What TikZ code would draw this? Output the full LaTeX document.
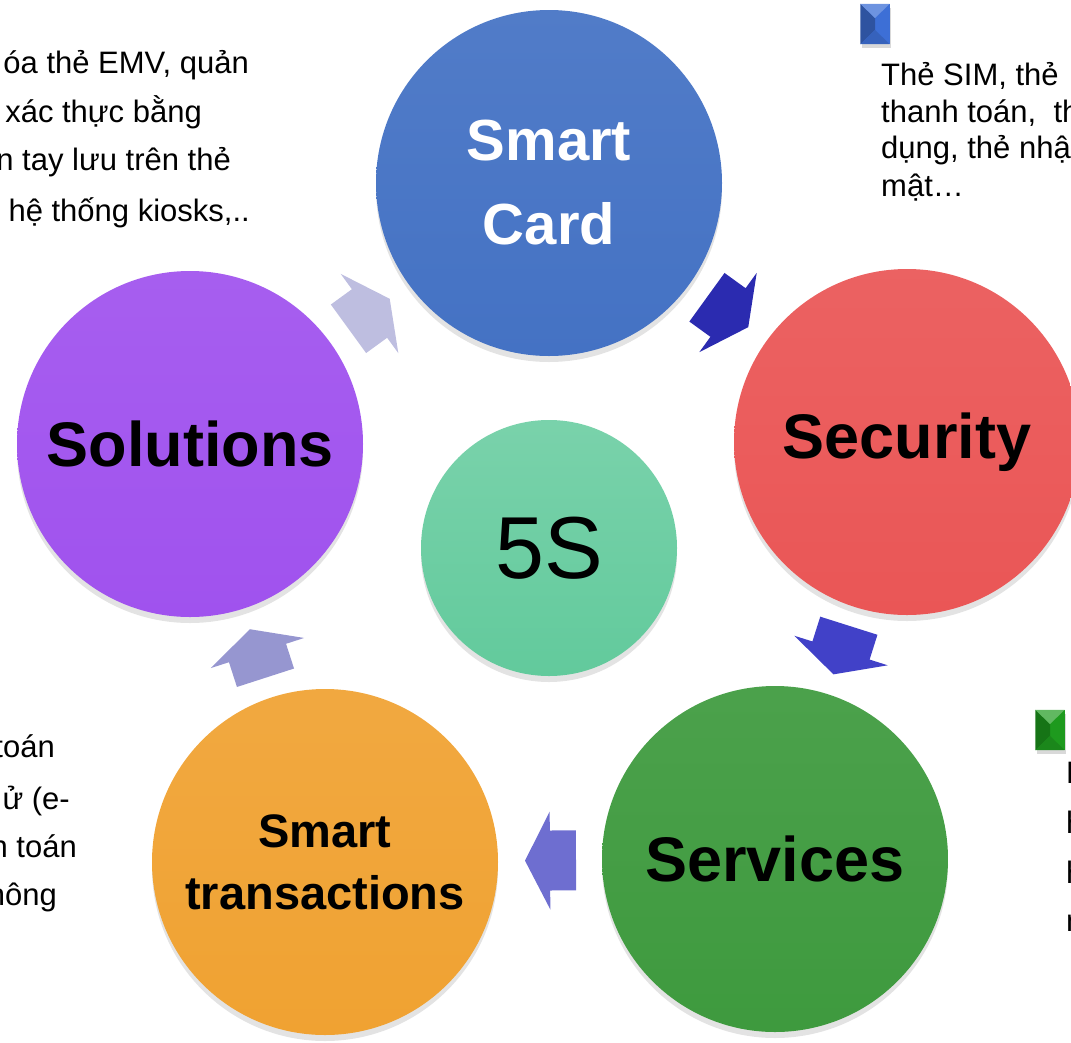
\documentclass[tikz,border=0pt]{standalone}
\usepackage{fontspec}
\setmainfont{Liberation Sans}
\usetikzlibrary{positioning,shadows,calc}

\definecolor{cardblue}{HTML}{4472C4}
\definecolor{secred}{HTML}{EA5656}
\definecolor{servgreen}{HTML}{3E9A3E}
\definecolor{transorange}{HTML}{F0A232}
\definecolor{solpurple}{HTML}{A052EE}
\definecolor{hubgreen}{HTML}{62CA9C}
\definecolor{arrowA}{HTML}{BEBEE0}
\definecolor{arrowB}{HTML}{2B2BB0}
\definecolor{arrowC}{HTML}{4141C8}
\definecolor{arrowD}{HTML}{6E6ED0}
\definecolor{arrowE}{HTML}{9696D0}
\definecolor{bulletblue}{HTML}{3D6FD6}
\definecolor{bulletgreen}{HTML}{1E9A1E}

\begin{document}
\begin{tikzpicture}[x=1pt, y=-1pt, allow upside down,
                ring/.style={circle, minimum size=346pt, inner sep=0pt, align=center,
                    font=\bfseries\fontsize{63}{70}\selectfont,
                    drop shadow={shadow xshift=0pt, shadow yshift=-6pt, opacity=0.22}},
                hub/.style={circle, minimum size=256pt, inner sep=0pt,
                    font=\fontsize{88}{100}\selectfont,
                    drop shadow={shadow xshift=0pt, shadow yshift=-6pt, opacity=0.22}},
                sidetext/.style={inner sep=0pt, font=\fontsize{31}{37}\selectfont},
                bulletbox/.style={rectangle, minimum width=29pt, minimum height=40pt, inner sep=0pt,
                    drop shadow={shadow xshift=1pt, shadow yshift=-4pt, opacity=0.3}},
                cyclearrow/.pic={\fill[#1] (-26,-30) -- (0,-30) -- (0,-49) -- (25,0)
                    -- (0,49) -- (0,30) -- (-26,30) -- cycle;}
            ]

            \useasboundingbox (0,0) rectangle (1071,1042);
            \clip (0,0) rectangle (1071,1042);

            %circles
            \node[ring, top color=cardblue!93!white, bottom color=cardblue, text=white,
                  font=\bfseries\fontsize{58}{84}\selectfont]   (card)  at (549,183) {Smart\\Card};
            \node[ring, top color=secred!93!white, bottom color=secred]         (sec)   at (907,442) {Security};
            \node[ring, top color=servgreen!93!white, bottom color=servgreen]   (serv)  at (775,859) {Services};
            \node[ring, top color=transorange!93!white, bottom color=transorange,
                  font=\bfseries\fontsize{47}{62}\selectfont]   (trans) at (325,862) {Smart\\transactions};
            \node[ring, top color=solpurple!93!white, bottom color=solpurple]   (sol)   at (190,444) {Solutions};
            \node[hub, top color=hubgreen!85!white, bottom color=hubgreen]      (hub)   at (549,548) {5S};

            %cycle arrows
            \path (sol.center) -- (card.center)     pic[pos=.5, sloped] {cyclearrow=arrowA};
            \path (card.center) -- (sec.center)     pic[pos=.5, sloped] {cyclearrow=arrowB};
            \path (sec.center) -- (serv.center)     pic[pos=.5, sloped] {cyclearrow=arrowC};
            \path (serv.center) -- (trans.center)   pic[pos=.5, sloped] {cyclearrow=arrowD};
            \path (trans.center) -- (sol.center)    pic[pos=.5, sloped] {cyclearrow=arrowE};

            %bullets
            \node[bulletbox, fill=bulletblue]   (bblue)  at (875,24)   {};
            \fill[bulletblue!75!black] (bblue.north west) -- ($(bblue.center)+(0,-6)$) -- ($(bblue.center)+(0,6)$) -- (bblue.south west) -- cycle;
            \fill[bulletblue!75!white] (bblue.north west) -- (bblue.north east) -- ($(bblue.center)+(0,-6)$) -- cycle;
            \fill[bulletblue!88!black] (bblue.south west) -- (bblue.south east) -- ($(bblue.center)+(0,6)$) -- cycle;

            \node[bulletbox, fill=bulletgreen]  (bgreen) at (1050,730) {};
            \fill[bulletgreen!75!black] (bgreen.north west) -- ($(bgreen.center)+(0,-6)$) -- ($(bgreen.center)+(0,6)$) -- (bgreen.south west) -- cycle;
            \fill[bulletgreen!70!white] (bgreen.north west) -- (bgreen.north east) -- ($(bgreen.center)+(0,-6)$) -- cycle;
            \fill[bulletgreen!88!black] (bgreen.south west) -- (bgreen.south east) -- ($(bgreen.center)+(0,6)$) -- cycle;

            %side texts
            \node[sidetext, anchor=base east] (lt1) at (249,73)  {óa thẻ EMV, quản};
            \node[sidetext, anchor=base east] (lt2) at (202,122) {xác thực bằng};
            \node[sidetext, anchor=base east] (lt3) at (231,170) {n tay lưu trên thẻ};
            \node[sidetext, anchor=base east] (lt4) at (250,221) {hệ thống kiosks,..};

            \node[sidetext, anchor=base west] (rt1) at (881,85)  {Thẻ SIM, thẻ};
            \node[sidetext, anchor=base west] (rt2) at (881,122) {thanh toán,\ \ th};
            \node[sidetext, anchor=base west] (rt3) at (881,158) {dụng, thẻ nhậ};
            \node[sidetext, anchor=base west] (rt4) at (881,196) {mật…};

            \node[sidetext, anchor=base east] (lb1) at (55,757)  {toán};
            \node[sidetext, anchor=base east] (lb2) at (70,809)  {ử (e-};
            \node[sidetext, anchor=base east] (lb3) at (77,857)  {n toán};
            \node[sidetext, anchor=base east] (lb4) at (57,905)  {hông};

            \node[sidetext, anchor=base west] (rb1) at (1066,783) {H};
            \node[sidetext, anchor=base west] (rb2) at (1066,833) {h};
            \node[sidetext, anchor=base west] (rb3) at (1066,883) {h};
            \node[sidetext, anchor=base west] (rb4) at (1066,931) {n};

\end{tikzpicture}
\end{document}
